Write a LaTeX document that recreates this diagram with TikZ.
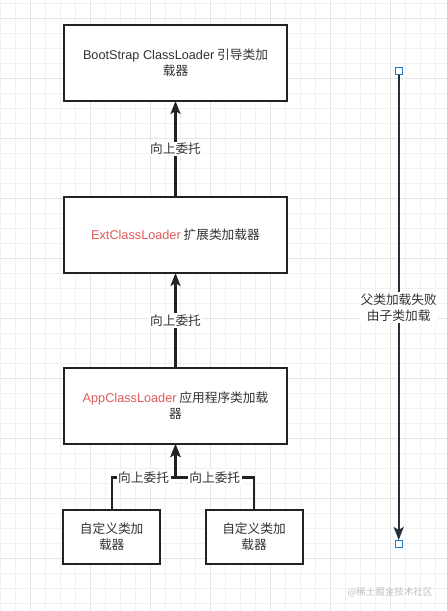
\documentclass[tikz,border=0pt]{standalone}
\usepackage{fontspec}
\setmainfont{Noto Sans CJK SC}
\newfontfamily\latinfont{Liberation Sans}
\usepackage{xcolor}
\usepackage{tikz}
\usetikzlibrary{arrows.meta,positioning}

\definecolor{txtgray}{HTML}{333333}
\definecolor{boxline}{HTML}{222222}
\definecolor{loadred}{HTML}{E05A5A}
\definecolor{navyline}{HTML}{26303D}
\definecolor{handleblue}{HTML}{1E78C8}

\begin{document}
\begin{tikzpicture}[
  x=1pt, y=-1pt,
  node distance=96pt,
  every node/.style={font=\fontsize{12.7}{16}\selectfont, text=txtgray},
  loaderbox/.style={rectangle, draw=boxline, line width=2pt, fill=white,
    minimum height=76pt, minimum width=223pt, align=center, outer sep=0pt},
  custombox/.style={rectangle, draw=boxline, line width=2pt, fill=white,
    minimum height=54pt, minimum width=97pt, align=center, outer sep=0pt},
  arr/.style={-{Stealth[length=13pt, width=10pt, inset=3pt]}, line width=2.2pt, draw=boxline},
  lbl/.style={fill=white, inner sep=1.5pt},
  handle/.style={rectangle, draw=handleblue, fill=white, line width=1pt,
    minimum size=7pt, inner sep=0pt},
]

% Background grid
\useasboundingbox (0,0) rectangle (447,611);
\fill[white] (0,0) rectangle (447,611);
\foreach \k in {0,...,29} {
  \pgfmathsetmacro{\gx}{0.7+15*\k}
  \pgfmathtruncatemacro{\major}{mod(\k,4)==2}
  \ifnum\major=1
    \draw[gray!20, line width=0.8pt] (\gx,0) -- (\gx,611);
  \else
    \draw[gray!11, line width=0.8pt] (\gx,0) -- (\gx,611);
  \fi
}
\foreach \k in {0,...,40} {
  \pgfmathsetmacro{\gy}{3.3+15*\k}
  \pgfmathtruncatemacro{\major}{mod(\k,4)==1}
  \ifnum\major=1
    \draw[gray!20, line width=0.8pt] (0,\gy) -- (447,\gy);
  \else
    \draw[gray!11, line width=0.8pt] (0,\gy) -- (447,\gy);
  \fi
}

% Loader chain (top to bottom)
\node[loaderbox] (boot) at (175.5,63) {{\latinfont BootStrap ClassLoader} 引导类加\\载器};

\node[loaderbox, below=of boot] (ext) {\textcolor{loadred}{\latinfont ExtClassLoader} 扩展类加载器};

\node[loaderbox, below=95pt of ext] (app) {\textcolor{loadred}{\latinfont AppClassLoader} 应用程序类加载\\器};

% Custom loaders
\node[custombox] (custA) at (111.7,536.5) {自定义类加\\载器};
\node[custombox] (custB) at (254,536.5) {自定义类加\\载器};

% Arrows
\draw[arr] (ext) -- node[lbl] {向上委托} (boot);
\draw[arr] (app) -- node[lbl] {向上委托} (ext);
\draw[arr] (custA.north) -- ++(0,-32) -| (app.south) node[lbl, pos=0.25] {向上委托};
\draw[arr] (custB.north) -- ++(0,-32) -| (app.south) node[lbl, pos=0.25] {向上委托};

% Failure path on the right
\node[handle] (htop) at (398.7,71) {};
\node[handle] (hbot) at (398.7,544) {};
\draw[-{Stealth[length=13pt, width=10pt, inset=3pt]}, line width=2.4pt, draw=navyline]
  (htop) -- node[lbl, align=center] {父类加载失败\\由子类加载} (hbot);

% Watermark
\node[font=\fontsize{9.5}{11}\selectfont, text=gray!50] (mark) at (390,592) {@稀土掘金技术社区};

\end{tikzpicture}
\end{document}
